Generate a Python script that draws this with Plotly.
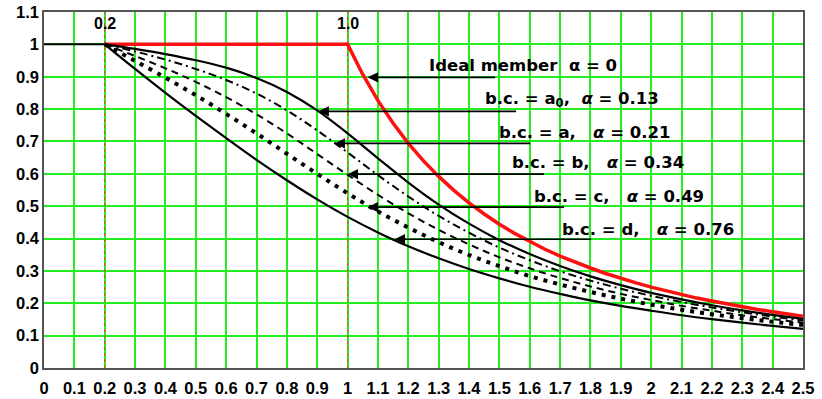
import plotly.graph_objects as go

# Relative slenderness values where the buckling curves are tabulated
lam = [0.2, 0.3, 0.4, 0.5, 0.6, 0.7, 0.8, 0.9, 1.0, 1.1, 1.2, 1.3, 1.4,
       1.5, 1.6, 1.7, 1.8, 1.9, 2.0, 2.1, 2.2, 2.3, 2.4, 2.5]

# Reduction factor chi for each buckling curve
chi_a0 = [1.000, 0.986, 0.970, 0.951, 0.928, 0.896, 0.853, 0.796, 0.725, 0.648,
          0.573, 0.505, 0.446, 0.395, 0.352, 0.315, 0.283, 0.256, 0.232, 0.212,
          0.194, 0.178, 0.164, 0.152]
chi_a = [1.000, 0.978, 0.953, 0.924, 0.890, 0.848, 0.796, 0.734, 0.666, 0.596,
         0.530, 0.470, 0.418, 0.372, 0.333, 0.299, 0.270, 0.245, 0.223, 0.204,
         0.187, 0.172, 0.159, 0.147]
chi_b = [1.000, 0.964, 0.926, 0.884, 0.837, 0.784, 0.725, 0.661, 0.597, 0.535,
         0.478, 0.427, 0.382, 0.342, 0.308, 0.278, 0.252, 0.229, 0.210, 0.192,
         0.177, 0.163, 0.151, 0.140]
chi_c = [1.000, 0.949, 0.897, 0.843, 0.785, 0.725, 0.662, 0.600, 0.540, 0.484,
         0.434, 0.389, 0.349, 0.315, 0.284, 0.258, 0.235, 0.214, 0.196, 0.180,
         0.166, 0.154, 0.143, 0.133]
chi_d = [1.000, 0.924, 0.850, 0.779, 0.710, 0.643, 0.580, 0.521, 0.467, 0.419,
         0.376, 0.339, 0.306, 0.277, 0.251, 0.229, 0.209, 0.192, 0.177, 0.163,
         0.151, 0.140, 0.130, 0.121]

# Plateau shared by all curves below lambda = 0.2
plateau_x = [0.0, 0.2]
plateau_y = [1.0, 1.0]

# Ideal (Euler) member
ideal_x = [0.2, 1.0, 1.05, 1.1, 1.15, 1.2, 1.25, 1.3, 1.35, 1.4, 1.45, 1.5, 1.55,
           1.6, 1.65, 1.7, 1.75, 1.8, 1.85, 1.9, 1.95, 2.0, 2.05, 2.1, 2.15,
           2.2, 2.25, 2.3, 2.35, 2.4, 2.45, 2.5]
ideal_y = [1.0, 1.0, 0.907, 0.826, 0.756, 0.694, 0.640, 0.592, 0.549, 0.510,
           0.476, 0.444, 0.416, 0.391, 0.367, 0.346, 0.327, 0.309, 0.292, 0.277,
           0.263, 0.250, 0.238, 0.227, 0.216, 0.207, 0.198, 0.189, 0.181, 0.174,
           0.167, 0.160]

x_ticks = [round(0.1 * i, 1) for i in range(26)]
x_ticktext = ["0", "0.1", "0.2", "0.3", "0.4", "0.5", "0.6", "0.7", "0.8", "0.9",
              "1", "1.1", "1.2", "1.3", "1.4", "1.5", "1.6", "1.7", "1.8", "1.9",
              "2", "2.1", "2.2", "2.3", "2.4", "2.5"]
y_ticks = [round(0.1 * i, 1) for i in range(12)]
y_ticktext = ["0", "0.1", "0.2", "0.3", "0.4", "0.5", "0.6", "0.7", "0.8", "0.9",
              "1", "1.1"]

# Reference slenderness markers
marker_x = [0.2, 1.0]
marker_text = ["0.2", "1.0"]

# Labels: (text, text x, text y, arrow tip x, arrow tip y, arrow tail x)
NB = "\u00a0"
labels = [
    ("Ideal member" + NB * 2 + "α = 0", 1.262, 0.934, 1.066, 0.898, 1.491),
    ("b.c. = a<sub>0</sub>," + NB * 2 + "<i>α</i> = 0.13", 1.447, 0.829, 0.904, 0.793, 1.560),
    ("b.c. = a," + NB * 3 + "<i>α</i> = 0.21", 1.493, 0.727, 0.957, 0.694, 1.606),
    ("b.c. = b," + NB * 3 + "<i>α</i> = 0.34", 1.536, 0.635, 1.000, 0.599, 1.652),
    ("b.c. = c," + NB * 3 + "<i>α</i> = 0.49", 1.609, 0.530, 1.066, 0.497, 1.718),
    ("b.c. = d," + NB * 3 + "<i>α</i> = 0.76", 1.701, 0.428, 1.155, 0.398, 1.807),
]

LABEL_FONT = "DejaVu Sans"
TICK_FONT = "Liberation Sans, Arial, sans-serif"
GRID = "#22ee22"


def bold(s):
    return "<b>" + s + "</b>"


fig = go.Figure()

fig.add_trace(go.Scatter(x=plateau_x, y=plateau_y, mode="lines",
                         line=dict(color="black", width=2)))
fig.add_trace(go.Scatter(x=ideal_x, y=ideal_y, mode="lines",
                         line=dict(color="#ff1010", width=3.5)))

curve_styles = [
    (chi_a0, dict(color="black", width=2.2)),
    (chi_a, dict(color="black", width=2, dash="8px,4px,2px,4px")),
    (chi_b, dict(color="black", width=2, dash="7px,5px")),
    (chi_c, dict(color="black", width=4, dash="4px,6px")),
    (chi_d, dict(color="black", width=2.2)),
]
for vals, style in curve_styles:
    fig.add_trace(go.Scatter(x=lam, y=vals, mode="lines",
                             line=dict(shape="spline", **style)))

for xv in marker_x:
    fig.add_shape(type="line", x0=xv, x1=xv, y0=0, y1=1.1, xref="x", yref="y",
                  layer="between", line=dict(color="#ff3030", width=1, dash="dot"))

for xv, txt in zip(marker_x, marker_text):
    fig.add_annotation(x=xv, y=1.065, text=bold(txt), showarrow=False,
                       xanchor="center", yanchor="middle",
                       font=dict(family=TICK_FONT, size=16, color="black"))

for txt, tx, ty, hx, hy, sx in labels:
    fig.add_annotation(x=hx, y=hy, ax=sx, ay=hy, axref="x", ayref="y",
                       xref="x", yref="y", text="", showarrow=True,
                       arrowhead=2, arrowsize=1.3, arrowwidth=1.6,
                       arrowcolor="black", standoff=0, startstandoff=0)
    fig.add_annotation(x=tx, y=ty, text=bold(txt), showarrow=False,
                       xanchor="left", yanchor="middle",
                       font=dict(family=LABEL_FONT, size=16.5, color="black"))

tick_font = dict(family=TICK_FONT, size=16.5, color="black")
fig.update_xaxes(range=[0, 2.5], tickvals=x_ticks,
                 ticktext=[bold(t) for t in x_ticktext], automargin=False,
                 showgrid=True, gridcolor=GRID, gridwidth=1.5, zeroline=False,
                 showline=True, linecolor="#555555", linewidth=1.5, mirror=True,
                 ticks="", ticklabelstandoff=4, tickfont=tick_font)
fig.update_yaxes(range=[0, 1.1], tickvals=y_ticks,
                 ticktext=[bold(t) for t in y_ticktext], automargin=False,
                 showgrid=True, gridcolor=GRID, gridwidth=1.5, zeroline=False,
                 showline=True, linecolor="#555555", linewidth=1.5, mirror=True,
                 ticks="", tickfont=tick_font)

fig.update_layout(width=822, height=399, showlegend=False,
                  margin=dict(l=44, r=19, t=12, b=31),
                  plot_bgcolor="white", paper_bgcolor="white")

fig.write_html("out.html")
